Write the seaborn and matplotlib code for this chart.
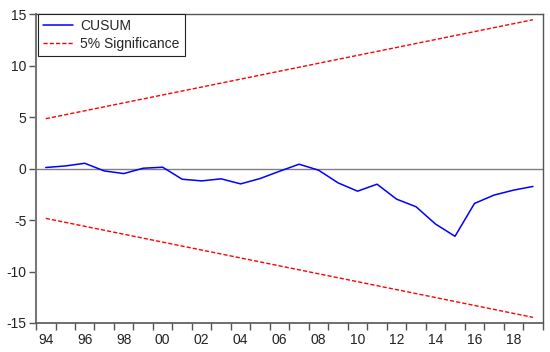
import numpy as np
import pandas as pd
import seaborn as sns
import matplotlib.pyplot as plt
from matplotlib.ticker import FixedLocator

sns.set_style("white")
plt.rcParams['font.family'] = ['Liberation Sans', 'DejaVu Sans']
plt.rcParams['axes.unicode_minus'] = False

# data
years = list(range(1994, 2020))
cusum = [0.10, 0.25, 0.51, -0.23, -0.49, 0.03, 0.13, -1.04, -1.20, -1.00,
         -1.49, -0.97, -0.26, 0.42, -0.16, -1.39, -2.20, -1.52, -2.97, -3.71,
         -5.39, -6.58, -3.39, -2.58, -2.10, -1.74]
bound_years = [1994, 2019]
upper_bound = [4.84, 14.45]
lower_bound = [-4.84, -14.45]

df = pd.DataFrame({'year': years, 'cusum': cusum})
bounds = pd.DataFrame({'year': bound_years, 'upper': upper_bound, 'lower': lower_bound})

fig = plt.figure(figsize=(5.5, 3.52), dpi=100)
ax = fig.add_axes([0.0655, 0.0824, 0.9212, 0.8776])

ax.axhline(0, color='#808080', lw=1, zorder=1)
sns.lineplot(data=df, x='year', y='cusum', color='#0000FF', lw=1.1, ax=ax, label='CUSUM')
sns.lineplot(data=bounds, x='year', y='upper', color='#FF0000', lw=1.0, ax=ax,
             label='5% Significance', linestyle=(0, (3, 1.5)))
sns.lineplot(data=bounds, x='year', y='lower', color='#FF0000', lw=1.0, ax=ax,
             linestyle=(0, (3, 1.5)))

ax.set_xlim(1993.5, 2019.5)
ax.set_ylim(-15, 15)
ax.set_xlabel('')
ax.set_ylabel('')

# year labels centred in each year, ticks on the year boundaries
ax.xaxis.set_major_locator(FixedLocator(years[::2]))
ax.set_xticklabels([f"{y % 100:02d}" for y in years[::2]])
ax.xaxis.set_minor_locator(FixedLocator(np.arange(1993.5, 2020, 1)))
ax.tick_params(axis='x', which='major', length=0, labelsize=10, pad=7, colors='#222222')
ax.tick_params(axis='x', which='minor', length=5, width=1, color='#555555', direction='out', bottom=True)
ax.set_yticks([-15, -10, -5, 0, 5, 10, 15])
ax.tick_params(axis='y', length=5, width=1, direction='out', left=True,
               labelsize=10, pad=2, color='#555555', labelcolor='#222222')

for side, sp in ax.spines.items():
    sp.set_color('#555555')
    sp.set_linewidth(1.0)
ax.spines['left'].set_color('#777777')
ax.spines['left'].set_linewidth(1.5)
ax.spines['bottom'].set_linewidth(1.2)

leg = ax.legend(loc='upper left', bbox_to_anchor=(0.004, 1.0), borderaxespad=0,
                fancybox=False, edgecolor='#222222', framealpha=1, fontsize=10,
                handlelength=2.2, handletextpad=0.5, labelspacing=0.3,
                borderpad=0.35)
leg.get_frame().set_linewidth(0.8)

fig.savefig('out.png', dpi=100)
